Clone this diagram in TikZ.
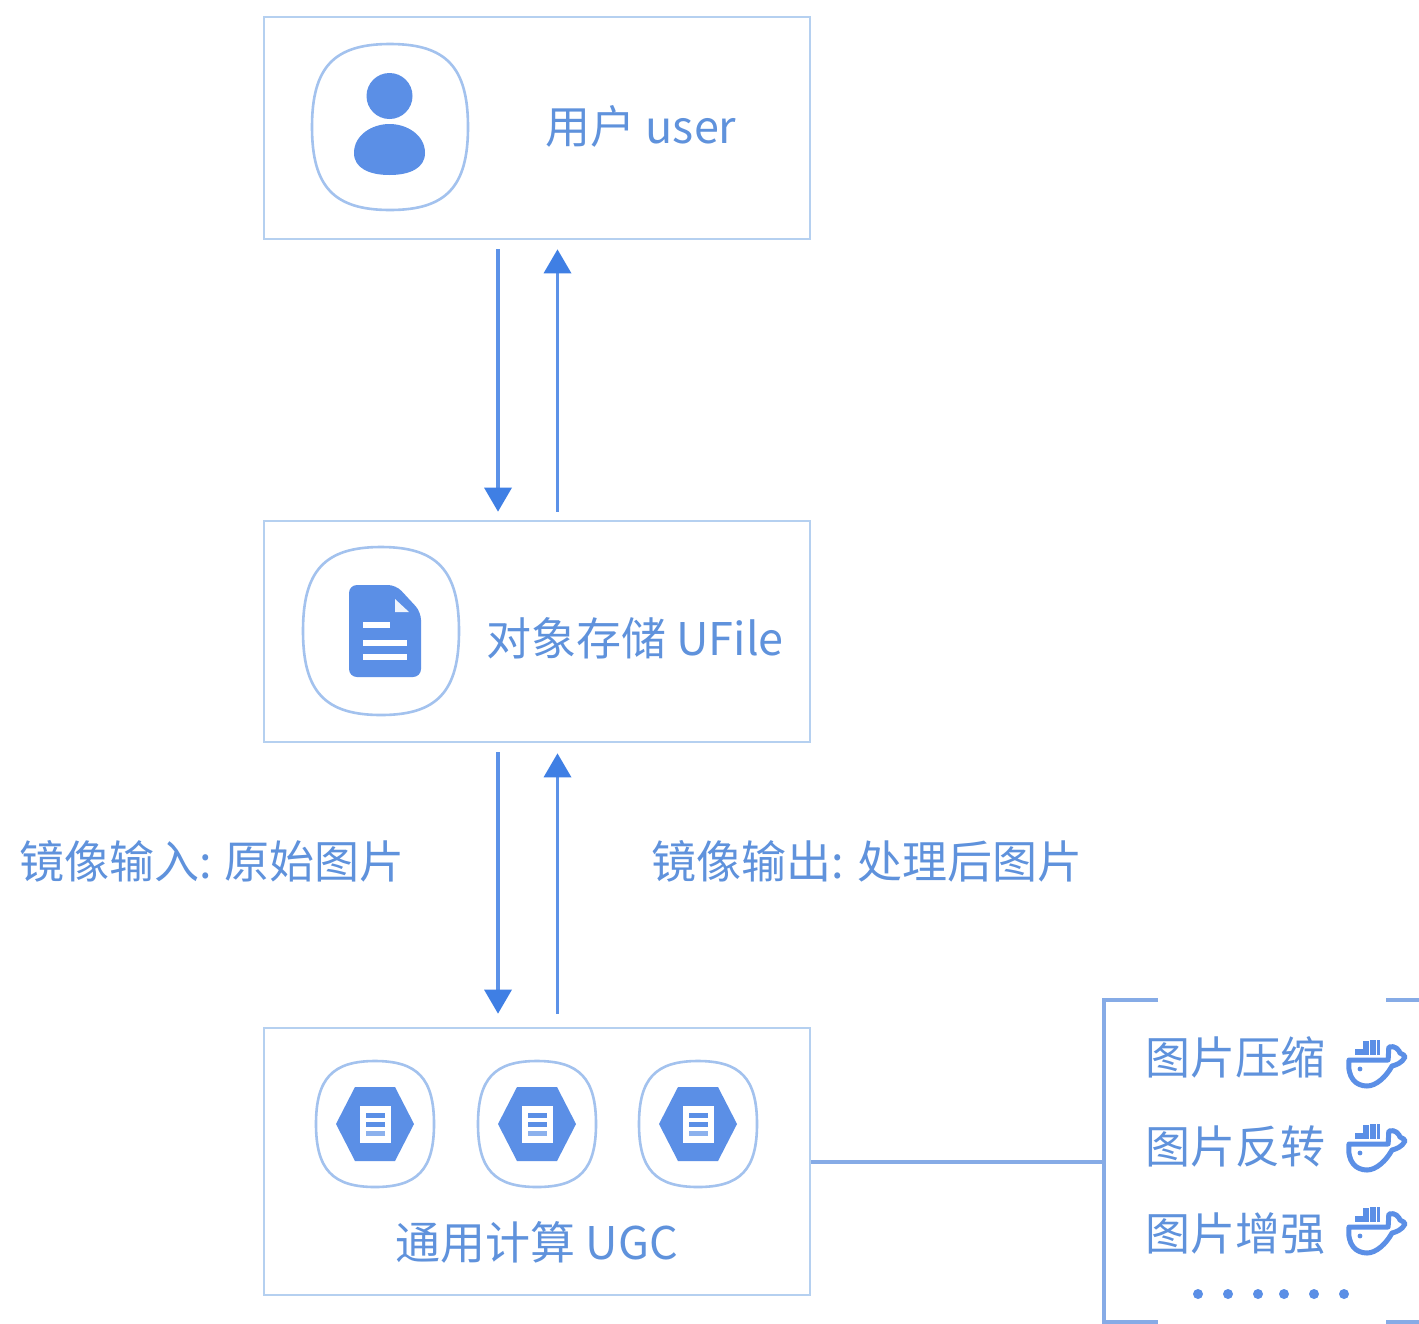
\documentclass[tikz,border=0pt]{standalone}
\usepackage{fontspec}
\setmainfont{Noto Sans CJK SC}
\usetikzlibrary{arrows.meta}
\definecolor{ink}{HTML}{5B8FE6}
\definecolor{txt}{HTML}{5F92DC}
\definecolor{frame}{HTML}{B5D0F0}
\definecolor{ring}{HTML}{A3C2EE}
\definecolor{arrowc}{HTML}{3F7FE4}
\definecolor{wire}{HTML}{86ABE6}
\tikzset{
 boxn/.style={draw=frame,line width=2.8pt,minimum width=546pt,fill=white,inner sep=0pt},
 label/.style={text=txt,font=\fontsize{45}{45}\selectfont,inner sep=0pt,anchor=center},
 small/.style={text=txt,font=\fontsize{45}{45}\selectfont,inner sep=0pt,anchor=west},
 flow/.style={draw=arrowc!85!white,line width=3.4pt,-{Triangle[length=24pt,width=28pt,fill=arrowc,line width=0pt]}},
 ringl/.style={draw=ring,line width=2.6pt},
 whale/.style={draw=ink,line width=5pt,line cap=round,line join=round},
}
% squircle: centre x,y half widths
\newcommand{\squirc}[4]{%
 \draw[ringl] (#1-#3,#2) .. controls (#1-#3,#2-0.72*#4) and (#1-0.72*#3,#2-#4) .. (#1,#2-#4)
  .. controls (#1+0.72*#3,#2-#4) and (#1+#3,#2-0.72*#4) .. (#1+#3,#2)
  .. controls (#1+#3,#2+0.72*#4) and (#1+0.72*#3,#2+#4) .. (#1,#2+#4)
  .. controls (#1-0.72*#3,#2+#4) and (#1-#3,#2+0.72*#4) .. (#1-#3,#2) -- cycle;}
\newcommand{\hexdoc}[2]{%
 \fill[ink] (#1-39,#2) -- (#1-20,#2-37) -- (#1+20,#2-37) -- (#1+39,#2) -- (#1+20,#2+37) -- (#1-20,#2+37) -- cycle;
 \fill[white] (#1-15,#2-18) rectangle (#1+16,#2+19);
 \fill[ink] (#1-9,#2-11) rectangle (#1+10,#2-6);
 \fill[ink] (#1-9,#2-2) rectangle (#1+10,#2+3);
 \fill[ink!70!white] (#1-9,#2+7) rectangle (#1+10,#2+12);}
\newcommand{\dockerw}[2]{%
 \draw[whale] (#1-27,#2+2) -- (#1+12,#2+2)
   .. controls (#1+13,#2-3) and (#1+12,#2-8) .. (#1+13,#2-11)
   .. controls (#1+19,#2-13) and (#1+23,#2-8) .. (#1+24,#2-5)
   .. controls (#1+27,#2-4) and (#1+29,#2-2) .. (#1+29,#2-1)
   .. controls (#1+26,#2+5) and (#1+20,#2+7) .. (#1+16,#2+8)
   .. controls (#1+10,#2+19) and (#1+0,#2+28) .. (#1-9,#2+28)
   .. controls (#1-20,#2+28) and (#1-29,#2+20) .. (#1-27,#2+2) -- cycle;
 \fill[ink] (#1-21,#2-9) rectangle (#1+4,#2-3);
 \fill[ink] (#1-13,#2-17) rectangle (#1+4,#2-3);
 \fill[ink] (#1-6,#2-18) rectangle (#1+4,#2-3);
 \fill[white] (#1-6.6,#2-18) rectangle (#1-5.6,#2-3);
 \fill[white] (#1+0,#2-18) rectangle (#1+1,#2-3);
 \fill[ink] (#1-16,#2+11) circle (2.4pt);}
\begin{document}
\begin{tikzpicture}[x=1pt,y=-1pt]
\useasboundingbox (0,0) rectangle (1419,1323);
\fill[white] (0,0) rectangle (1419,1323);
% boxes
\node[boxn,minimum height=222pt] (user) at (537,128) {};
\node[boxn,minimum height=221pt] (ufile) at (537,631.5) {};
\node[boxn,minimum height=267pt] (ugc) at (537,1161.5) {};
% user
\squirc{390}{127}{78}{83}
\fill[ink] (389.5,96) circle (23pt);
\fill[ink] (354,153) .. controls (354,135) and (372,124) .. (389.5,124)
  .. controls (407,124) and (425,135) .. (425,153)
  .. controls (425,168) and (410,175) .. (389.5,175)
  .. controls (369,175) and (354,168) .. (354,153) -- cycle;
\node[label] (usert) at (641,126) {用户 user};
% ufile
\squirc{381}{631}{78}{84}
\fill[ink,rounded corners=8pt] (349,585) -- (396,585) -- (421,612) -- (421,677) -- (349,677) -- cycle;
\fill[white!90!ink] (395,599) -- (409,612) -- (395,612) -- cycle;
\fill[white] (363,622) rectangle (390,628);
\fill[white] (363,640) rectangle (407,646);
\fill[white] (363,654) rectangle (407,660);
\node[label] (ufilet) at (635,638) {对象存储 UFile};
% ugc
\squirc{375}{1124}{59}{63}
\squirc{537}{1124}{59}{63}
\squirc{698}{1124}{59}{63}
\hexdoc{375}{1124}
\hexdoc{537}{1124}
\hexdoc{698}{1124}
\node[label] (ugct) at (537,1242) {通用计算 UGC};
% edge labels
\node[label] (inl) at (212,861) {镜像输入: 原始图片};
\node[label] (outl) at (867,861) {镜像输出: 处理后图片};
% arrows
\draw[flow] ([xshift=-39pt,yshift=-9pt]user.south) -- ([xshift=-39pt,yshift=8pt]ufile.north);
\draw[flow] ([xshift=20.5pt,yshift=8pt]ufile.north) -- ([xshift=20.5pt,yshift=-9pt]user.south);
\draw[flow] ([xshift=-39pt,yshift=-9pt]ufile.south) -- ([xshift=-39pt,yshift=13pt]ugc.north);
\draw[flow] ([xshift=20.5pt,yshift=13pt]ugc.north) -- ([xshift=20.5pt,yshift=-10pt]ufile.south);
% bracket
\coordinate (brk) at (1104,1161.5);
\draw[draw=wire,line width=3.6pt] (1158,1000) -- (1104,1000) -- (1104,1322) -- (1158,1322);
\draw[draw=wire,line width=3.6pt] (1386,1000) -- (1419,1000);
\draw[draw=wire,line width=3.6pt] (1386,1322) -- (1419,1322);
\draw[draw=wire,line width=4pt] (ugc.east) -- (brk);
% list
\node[small] (l1) at (1145,1057) {图片压缩};
\node[small] (l2) at (1145,1146) {图片反转};
\node[small] (l3) at (1145,1234) {图片增强};
\dockerw{1376}{1058}
\dockerw{1376}{1142}
\dockerw{1376}{1225}
\foreach \x in {1198,1228,1258,1284,1314,1344}{\fill[ink] (\x,1294) circle (5pt);}
\end{tikzpicture}
\end{document}
